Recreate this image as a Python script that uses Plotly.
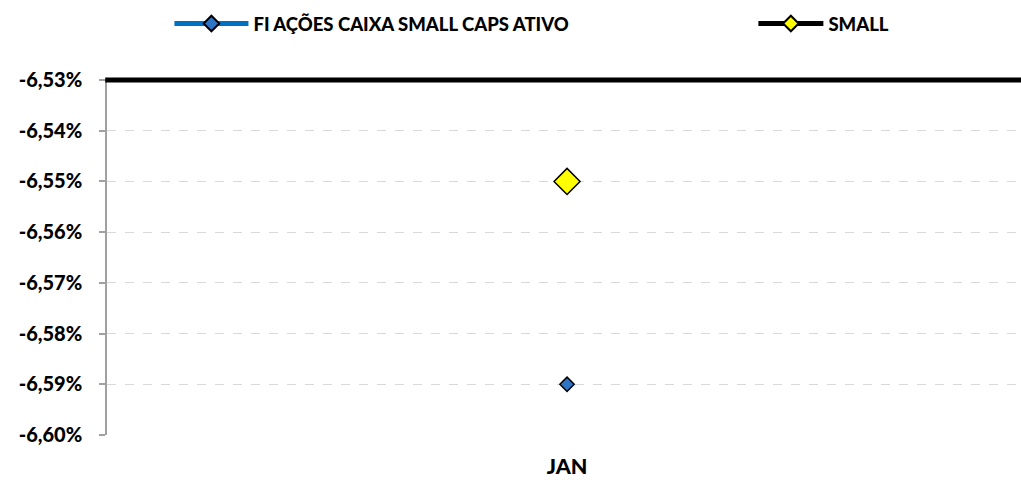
import plotly.graph_objects as go

categories = ["JAN"]
fi_values = [-0.0659]
small_values = [-0.0655]
tick_vals = [-0.0660, -0.0659, -0.0658, -0.0657, -0.0656, -0.0655, -0.0654, -0.0653]
tick_text = ["-6,60%", "-6,59%", "-6,58%", "-6,57%", "-6,56%", "-6,55%", "-6,54%", "-6,53%"]

FONT = "Lato"

fig = go.Figure()
fig.add_trace(go.Scatter(
    x=categories, y=fi_values, name="FI AÇÕES CAIXA SMALL CAPS ATIVO",
    mode="lines+markers",
    line=dict(color="#0070C0", width=6),
    marker=dict(symbol="diamond", size=11, color="#2E75C6", line=dict(color="#000000", width=1.5)),
    legend="legend",
))
fig.add_trace(go.Scatter(
    x=categories, y=small_values, name="SMALL",
    mode="lines+markers",
    line=dict(color="#000000", width=6),
    marker=dict(symbol="diamond", size=20, color="#FFFF00", line=dict(color="#000000", width=1.5)),
    legend="legend2",
))

# category axis line, drawn at the top of the value range (Excel axis crossing)
fig.add_shape(type="line", xref="paper", yref="paper", x0=-0.002, x1=1,
              y0=1, y1=1,
              line=dict(color="#000000", width=5), layer="above")

legend_common = dict(
    orientation="h", yanchor="middle", xanchor="left",
    font=dict(family=FONT, size=18.5, color="#000000", weight=900),
    bgcolor="rgba(0,0,0,0)", itemsizing="constant",
)
fig.update_layout(
    width=1021, height=480,
    paper_bgcolor="#FFFFFF", plot_bgcolor="#FFFFFF",
    margin=dict(l=107, r=0, t=80, b=45),
    font=dict(family=FONT, size=16, color="#000000"),
    legend=dict(x=0.0683, y=1 + (80 - 24) / 355, itemwidth=74, **legend_common),
    legend2=dict(x=0.7072, y=1 + (80 - 24) / 355, itemwidth=65, **legend_common),
    xaxis=dict(
        type="category", range=[-0.5, 0.4934],
        showline=False, showgrid=False, ticks="",
        tickfont=dict(family=FONT, size=21.5, color="#000000", weight=900),
        ticklabelstandoff=16, automargin=False,
    ),
    yaxis=dict(
        range=[min(tick_vals), max(tick_vals)],
        tickvals=tick_vals, ticktext=tick_text,
        showline=True, linecolor="#A0A0A0", linewidth=1.5,
        ticks="outside", ticklen=6, tickcolor="#A0A0A0", tickwidth=1.5,
        showgrid=True, gridcolor="#D9D9D9", griddash="dash", gridwidth=1,
        zeroline=False,
        tickfont=dict(family=FONT, size=20, color="#000000", weight=900),
        ticklabelstandoff=13, automargin=False,
    ),
    showlegend=True,
)

fig.write_html(
    "out.html",
    config={"displayModeBar": False},
    post_script="document.body.style.margin='0';document.body.style.overflow='hidden';",
)
